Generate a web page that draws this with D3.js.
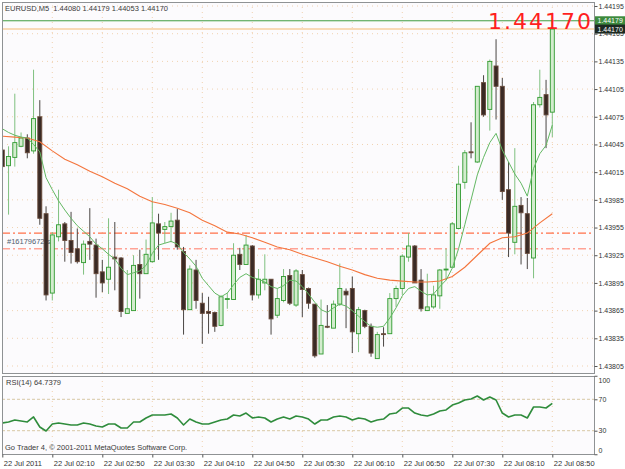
<!DOCTYPE html>
<html>
<head>
<meta charset="utf-8">
<script src="https://cdn.jsdelivr.net/npm/d3@7"></script>
<style>
  body { margin: 0; background: #ffffff; }
  svg { display: block; font-family: "Liberation Sans", Arial, sans-serif; }
</style>
</head>
<body>
<div id="chart"></div>
<script>
// chart.js - EURUSD M5 candles with MAs, order lines and RSI
const W = 625, H = 469;
const plotLeft = 2, plotRight = 594;
const mainTop = 2, mainBottom = 373;
const rsiTop = 376, rsiBottom = 454;

// ---- data ----
const symbolTitle = "EURUSD,M5  1.44080 1.44179 1.44053 1.44170";
const firstBarTime = "01:30";
const lastBarTime = "08:50";

const opens = [1.44039,1.44022,1.44031,1.44043,1.44052,1.44038,1.44075,1.43970,1.43884,1.43945,
  1.43959,1.43941,1.43932,1.43917,1.43940,1.43936,1.43907,1.43899,1.43923,1.43922,
  1.43862,1.43865,1.43915,1.43905,1.43918,1.43959,1.43953,1.43956,1.43963,1.43929,
  1.43866,1.43909,1.43873,1.43864,1.43863,1.43849,1.43877,1.43877,1.43926,1.43915,
  1.43935,1.43882,1.43895,1.43899,1.43860,1.43876,1.43903,1.43871,1.43904,1.43889,
  1.43872,1.43818,1.43848,1.43846,1.43872,1.43886,1.43889,1.43840,1.43865,1.43848,
  1.43813,1.43840,1.43840,1.43878,1.43889,1.43923,1.43935,1.43898,1.43865,1.43869,
  1.43881,1.43909,1.43912,1.43954,1.44004,1.44037,1.44026,1.44112,1.44083,1.44130,
  1.44108,1.43996,1.43939,1.43979,1.43970,1.43922,1.44088,1.44099,1.44080];
const highs = [1.44048,1.44043,1.44100,1.44058,1.44056,1.44126,1.44093,1.43978,1.43950,1.43996,
  1.43961,1.43972,1.43954,1.43941,1.43976,1.43943,1.43920,1.43965,1.43961,1.43923,
  1.43909,1.43925,1.43931,1.43942,1.43988,1.43970,1.43961,1.43971,1.43975,1.43934,
  1.43914,1.43920,1.43884,1.43880,1.43864,1.43882,1.43884,1.43938,1.43933,1.43947,
  1.43936,1.43910,1.43926,1.43899,1.43889,1.43910,1.43910,1.43910,1.43909,1.43890,
  1.43872,1.43877,1.43871,1.43876,1.43916,1.43889,1.43902,1.43869,1.43866,1.43851,
  1.43842,1.43847,1.43884,1.43892,1.43926,1.43949,1.43936,1.43910,1.43905,1.43892,
  1.43910,1.43932,1.43961,1.44022,1.44039,1.44069,1.44108,1.44120,1.44137,1.44159,
  1.44117,1.44026,1.44041,1.43988,1.43987,1.44091,1.44126,1.44115,1.44179];
const lows = [1.44010,1.43969,1.44021,1.44042,1.44030,1.44035,1.43958,1.43876,1.43876,1.43940,
  1.43918,1.43916,1.43916,1.43904,1.43920,1.43879,1.43885,1.43883,1.43887,1.43858,
  1.43862,1.43865,1.43878,1.43905,1.43917,1.43920,1.43938,1.43939,1.43931,1.43839,
  1.43866,1.43867,1.43829,1.43840,1.43842,1.43848,1.43867,1.43877,1.43909,1.43915,
  1.43876,1.43878,1.43887,1.43839,1.43857,1.43874,1.43871,1.43869,1.43858,1.43867,
  1.43814,1.43818,1.43846,1.43846,1.43870,1.43846,1.43819,1.43820,1.43846,1.43815,
  1.43813,1.43826,1.43840,1.43869,1.43882,1.43918,1.43895,1.43864,1.43865,1.43867,
  1.43867,1.43898,1.43912,1.43953,1.43997,1.44030,1.44025,1.44075,1.44060,1.44072,
  1.43985,1.43923,1.43926,1.43915,1.43910,1.43900,1.44085,1.44041,1.44053];
const closes = [1.44021,1.44032,1.44047,1.44052,1.44036,1.44073,1.43965,1.43882,1.43947,1.43958,
  1.43941,1.43928,1.43918,1.43937,1.43937,1.43905,1.43895,1.43912,1.43921,1.43864,
  1.43867,1.43914,1.43905,1.43926,1.43960,1.43949,1.43956,1.43962,1.43934,1.43866,
  1.43910,1.43876,1.43862,1.43862,1.43848,1.43880,1.43878,1.43925,1.43915,1.43936,
  1.43882,1.43899,1.43899,1.43856,1.43878,1.43902,1.43873,1.43908,1.43888,1.43873,
  1.43816,1.43849,1.43847,1.43872,1.43889,1.43882,1.43842,1.43866,1.43848,1.43819,
  1.43839,1.43839,1.43878,1.43889,1.43924,1.43935,1.43895,1.43867,1.43869,1.43882,
  1.43909,1.43910,1.43959,1.44002,1.44036,1.44036,1.44108,1.44077,1.44135,1.44108,
  1.43994,1.43949,1.43978,1.43971,1.43927,1.44088,1.44096,1.44077,1.44170];

// fast moving average (thin green), one value per bar
const fastMA = [1.44062,1.44058,1.44055,1.44053,1.44052,1.44045,1.44037,1.44009,1.43996,1.43984,
  1.43974,1.43965,1.43957,1.43951,1.43945,1.43937,1.43932,1.43926,1.43921,1.43911,
  1.43904,1.43906,1.43908,1.43914,1.43927,1.43936,1.43938,1.43940,1.43937,1.43928,
  1.43921,1.43913,1.43900,1.43892,1.43884,1.43880,1.43884,1.43893,1.43901,1.43905,
  1.43901,1.43899,1.43896,1.43891,1.43889,1.43892,1.43898,1.43897,1.43891,1.43883,
  1.43874,1.43866,1.43863,1.43868,1.43872,1.43870,1.43865,1.43859,1.43853,1.43848,
  1.43847,1.43848,1.43857,1.43868,1.43881,1.43889,1.43891,1.43886,1.43882,1.43883,
  1.43891,1.43898,1.43911,1.43932,1.43958,1.43985,1.44012,1.44031,1.44047,1.44057,
  1.44039,1.44026,1.44013,1.44003,1.43989,1.44019,1.44035,1.44044,1.44066];

// slow moving average (orange), sampled every 2nd bar (bar 0, 2, 4 ... 88)
const slowMA = [1.44054,1.44053,1.44052,1.44048,1.44038,1.44029,1.44023,1.44016,1.44010,1.44003,
  1.43997,1.43989,1.43983,1.43980,1.43976,1.43971,1.43963,1.43957,1.43950,1.43948,
  1.43944,1.43939,1.43934,1.43931,1.43926,1.43922,1.43918,1.43913,1.43909,1.43904,
  1.43900,1.43898,1.43897,1.43896,1.43896,1.43897,1.43902,1.43912,1.43925,1.43938,
  1.43944,1.43945,1.43949,1.43960,1.43970];

// RSI(14), one value per bar
const rsiValues = [39.8,41.1,43.6,42.4,41.1,47.5,34.7,29.6,38.5,39.8,
  38.5,37.3,37.3,39.8,38.5,36.0,34.7,38.5,38.5,33.4,
  33.4,41.1,41.1,46.2,50.0,50.0,50.0,51.3,46.2,37.3,
  44.9,41.1,38.5,38.5,41.1,43.6,44.9,50.0,48.7,52.5,
  46.2,47.5,46.2,41.1,44.9,47.5,44.9,48.7,47.5,44.9,
  38.5,43.6,43.6,47.5,48.7,47.5,43.6,46.2,44.9,41.1,
  43.6,44.9,51.3,52.5,58.9,58.9,52.5,50.0,48.7,51.3,
  55.1,56.4,62.7,65.3,69.1,70.4,74.2,69.1,72.9,69.1,
  52.5,47.5,50.0,50.0,46.2,60.2,60.2,58.9,64.7379];

const priceTicks = [1.43805,1.43835,1.43865,1.43895,1.43925,1.43955,1.43985,
  1.44015,1.44045,1.44075,1.44105,1.44135,1.44165,1.44195];
const rsiLevels = [30, 70];
const rsiTickLabels = [0, 30, 70, 100];
const timeTicks = ["01:30","02:10","02:50","03:30","04:10","04:50","05:30","06:10","06:50","07:30","08:10","08:50"];
const timeTickLabels = ["22 Jul 2011","22 Jul 02:10","22 Jul 02:50","22 Jul 03:30","22 Jul 04:10","22 Jul 04:50",
  "22 Jul 05:30","22 Jul 06:10","22 Jul 06:50","22 Jul 07:30","22 Jul 08:10","22 Jul 08:50"];

const orderOpen = 1.43949;
const orderStop = 1.43932;
const orderLabel = "#16179672 s/l";
const highLine = 1.44179;
const bidPrice = 1.44170;
const rsiTitle = "RSI(14) 64.7379";
const copyright = "Go Trader 4, \u00a9 2001-2011 MetaQuotes Software Corp.";

// ---- scales ----
const parseT = d3.timeParse("%H:%M");
const t0 = parseT(firstBarTime);
const barTime = function(i) { return d3.timeMinute.offset(t0, 5 * i); };

const x = d3.scaleTime()
  .domain([t0, parseT(lastBarTime)])
  .range([2.3, 552.3]);

const y = d3.scaleLinear()
  .domain([1.43805, 1.44195])
  .range([366, 6]);

const yRsi = d3.scaleLinear()
  .domain([0, 100])
  .range([454.25, 375.75]);

const axisFont = "'Liberation Sans', Arial, sans-serif";

const svg = d3.select("#chart")
  .append("svg")
  .attr("width", W)
  .attr("height", H);

svg.append("rect").attr("width", W).attr("height", H).attr("fill", "#ffffff");

// panel backgrounds
svg.append("rect")
  .attr("x", plotLeft).attr("y", mainTop)
  .attr("width", plotRight - plotLeft).attr("height", mainBottom - mainTop)
  .attr("fill", "#fcfbfd");
svg.append("rect")
  .attr("x", plotLeft).attr("y", rsiTop)
  .attr("width", plotRight - plotLeft).attr("height", rsiBottom - rsiTop)
  .attr("fill", "#fcfbfd");

svg.append("clipPath").attr("id", "clipMain")
  .append("rect")
  .attr("x", plotLeft + 1).attr("y", mainTop + 1)
  .attr("width", plotRight - plotLeft - 1).attr("height", mainBottom - mainTop - 1);
svg.append("clipPath").attr("id", "clipRsi")
  .append("rect")
  .attr("x", plotLeft + 1).attr("y", rsiTop + 1)
  .attr("width", plotRight - plotLeft - 1).attr("height", rsiBottom - rsiTop - 1);

const main = svg.append("g").attr("clip-path", "url(#clipMain)");
const rsiG = svg.append("g").attr("clip-path", "url(#clipRsi)");

// dotted grid
const gridColor = "#f1d2b0";
main.selectAll("line.hgrid")
  .data(priceTicks)
  .enter().append("line")
  .attr("class", "hgrid")
  .attr("x1", plotLeft).attr("x2", plotRight)
  .attr("y1", function(d) { return y(d); }).attr("y2", function(d) { return y(d); })
  .attr("stroke", gridColor).attr("stroke-dasharray", "1,4");

main.selectAll("line.vgrid")
  .data(timeTicks.slice(1))
  .enter().append("line")
  .attr("class", "vgrid")
  .attr("x1", function(d) { return x(parseT(d)); }).attr("x2", function(d) { return x(parseT(d)); })
  .attr("y1", mainTop).attr("y2", mainBottom)
  .attr("stroke", gridColor).attr("stroke-dasharray", "1,4");

rsiG.selectAll("line.vgrid")
  .data(timeTicks.slice(1))
  .enter().append("line")
  .attr("x1", function(d) { return x(parseT(d)); }).attr("x2", function(d) { return x(parseT(d)); })
  .attr("y1", rsiTop).attr("y2", rsiBottom)
  .attr("stroke", gridColor).attr("stroke-dasharray", "1,4");

// horizontal lines at the top (high line and bid line)
main.append("line")
  .attr("x1", plotLeft).attr("x2", plotRight)
  .attr("y1", y(highLine)).attr("y2", y(highLine))
  .attr("stroke", "#3f9c3f").attr("stroke-width", 1);
main.append("line")
  .attr("x1", plotLeft).attr("x2", plotRight)
  .attr("y1", y(bidPrice)).attr("y2", y(bidPrice))
  .attr("stroke", "#f7cf9f").attr("stroke-width", 1.5);

// order lines
main.append("line")
  .attr("x1", plotLeft).attr("x2", plotRight)
  .attr("y1", y(orderOpen)).attr("y2", y(orderOpen))
  .attr("stroke", "#ff7048").attr("stroke-width", 1.3)
  .attr("stroke-dasharray", "8,3,2,3");
main.append("line")
  .attr("x1", plotLeft).attr("x2", plotRight)
  .attr("y1", y(orderStop)).attr("y2", y(orderStop))
  .attr("stroke", "#ffa396").attr("stroke-width", 1.3)
  .attr("stroke-dasharray", "8,3,2,3");
main.append("text")
  .attr("x", 7).attr("y", (y(orderOpen) + y(orderStop)) / 2 + 3)
  .style("font-size", "7.5px").style("fill", "#50606e")
  .text(orderLabel);

// candles
const bars = d3.range(opens.length).map(function(i) {
  return { i: i, t: barTime(i), o: opens[i], h: highs[i], l: lows[i], c: closes[i] };
});

const candle = main.selectAll("g.candle")
  .data(bars)
  .enter().append("g")
  .attr("class", "candle");

candle.append("line")
  .attr("x1", function(d) { return x(d.t); }).attr("x2", function(d) { return x(d.t); })
  .attr("y1", function(d) { return y(d.h); }).attr("y2", function(d) { return y(d.l); })
  .attr("stroke", function(d) { return d.c >= d.o ? "#7fc07f" : "#4a4644"; })
  .attr("stroke-width", 1);

candle.append("rect")
  .attr("x", function(d) { return x(d.t) - 2; })
  .attr("width", 4)
  .attr("y", function(d) { return y(Math.max(d.o, d.c)); })
  .attr("height", function(d) { return Math.max(0.8, Math.abs(y(d.o) - y(d.c))); })
  .attr("fill", function(d) { return d.c >= d.o ? "#d3ecce" : "#3a2a25"; })
  .attr("stroke", function(d) { return d.c >= d.o ? "#2f9a2f" : "#6a4c3c"; })
  .attr("stroke-width", 0.9);

// moving averages
const slowLine = d3.line()
  .x(function(d, k) { return x(barTime(k * 2)); })
  .y(function(d) { return y(d); });
main.append("path")
  .datum(slowMA)
  .attr("d", slowLine)
  .attr("fill", "none").attr("stroke", "#f4753d").attr("stroke-width", 1.1);

const fastLine = d3.line()
  .x(function(d, k) { return x(barTime(k)); })
  .y(function(d) { return y(d); });
main.append("path")
  .datum(fastMA)
  .attr("d", fastLine)
  .attr("fill", "none").attr("stroke", "#63b863").attr("stroke-width", 1);

// big bid price label
main.append("text")
  .attr("x", 591).attr("y", 29)
  .attr("text-anchor", "end")
  .attr("textLength", 103).attr("lengthAdjust", "spacing")
  .style("font-family", "'DejaVu Sans', sans-serif")
  .style("font-size", "22px").style("fill", "#ff1f1f")
  .text(d3.format(".5f")(bidPrice));

// header
svg.append("text")
  .attr("x", 5).attr("y", 10.5)
  .style("font-size", "7.5px").style("fill", "#3a3a3a")
  .attr("xml:space", "preserve")
  .text(symbolTitle);

// RSI
rsiG.selectAll("line.level")
  .data(rsiLevels)
  .enter().append("line")
  .attr("x1", plotLeft).attr("x2", plotRight)
  .attr("y1", function(d) { return yRsi(d); }).attr("y2", function(d) { return yRsi(d); })
  .attr("stroke", "#d8c8a4").attr("stroke-dasharray", "3,2");

const rsiLine = d3.line()
  .x(function(d, k) { return x(barTime(k)); })
  .y(function(d) { return yRsi(d); });
rsiG.append("path")
  .datum(rsiValues)
  .attr("d", rsiLine)
  .attr("fill", "none").attr("stroke", "#2f8c3c").attr("stroke-width", 1.6)
  .attr("stroke-linejoin", "round");

svg.append("text")
  .attr("x", 6).attr("y", 385)
  .style("font-size", "7.5px").style("fill", "#3a3a3a")
  .text(rsiTitle);

svg.append("text")
  .attr("x", 5).attr("y", 450)
  .style("font-size", "7.5px").style("fill", "#3a3a3a")
  .text(copyright);

// frames
[[mainTop, mainBottom], [rsiTop, rsiBottom]].forEach(function(p) {
  svg.append("rect")
    .attr("x", plotLeft + 0.5).attr("y", p[0] + 0.5)
    .attr("width", plotRight - plotLeft).attr("height", p[1] - p[0])
    .attr("fill", "none").attr("stroke", "#8f9294").attr("stroke-width", 1);
});

// price axis
const priceAxis = svg.append("g")
  .attr("transform", "translate(" + (plotRight + 0.5) + ",0)")
  .call(d3.axisRight(y).tickValues(priceTicks).tickSize(3).tickPadding(1).tickFormat(d3.format(".5f")));
priceAxis.select(".domain").remove();
priceAxis.selectAll("line").attr("stroke", "#555");
priceAxis.selectAll("text").style("font-size", "7px").style("fill", "#333").style("font-family", axisFont);

// price label boxes on the axis
[[highLine, "#3d8a3d"], [bidPrice, "#1d2a22"]].forEach(function(p) {
  const g = svg.append("g").attr("transform", "translate(595," + y(p[0]) + ")");
  g.append("rect").attr("x", 0).attr("y", -4.5).attr("width", 30).attr("height", 9).attr("fill", p[1]);
  g.append("text").attr("x", 2.5).attr("y", 2.6)
    .style("font-size", "7px").style("fill", "#ffffff").style("font-family", axisFont)
    .text(d3.format(".5f")(p[0]));
});

// rsi axis
const rsiAxis = svg.append("g")
  .attr("transform", "translate(" + (plotRight + 0.5) + ",0)")
  .call(d3.axisRight(yRsi).tickValues(rsiTickLabels).tickSize(3).tickPadding(1));
rsiAxis.select(".domain").remove();
rsiAxis.selectAll("line").attr("stroke", "#555");
rsiAxis.selectAll("text")
  .style("font-size", "7px").style("fill", "#333").style("font-family", axisFont)
  .attr("dy", function(d) { return d === 100 ? "0.9em" : (d === 0 ? "-0.2em" : "0.32em"); });

// time axis
const timeAxis = svg.append("g")
  .attr("transform", "translate(0," + (rsiBottom + 0.5) + ")")
  .call(d3.axisBottom(x)
    .tickValues(timeTicks.map(function(d) { return parseT(d); }))
    .tickSize(3).tickPadding(3)
    .tickFormat(function(d, k) { return timeTickLabels[k]; }));
timeAxis.select(".domain").remove();
timeAxis.selectAll("line").attr("stroke", "#555");
timeAxis.selectAll("text")
  .attr("text-anchor", "start").attr("dx", 1)
  .style("font-size", "7.5px").style("fill", "#333").style("font-family", axisFont);
</script>
</body>
</html>
